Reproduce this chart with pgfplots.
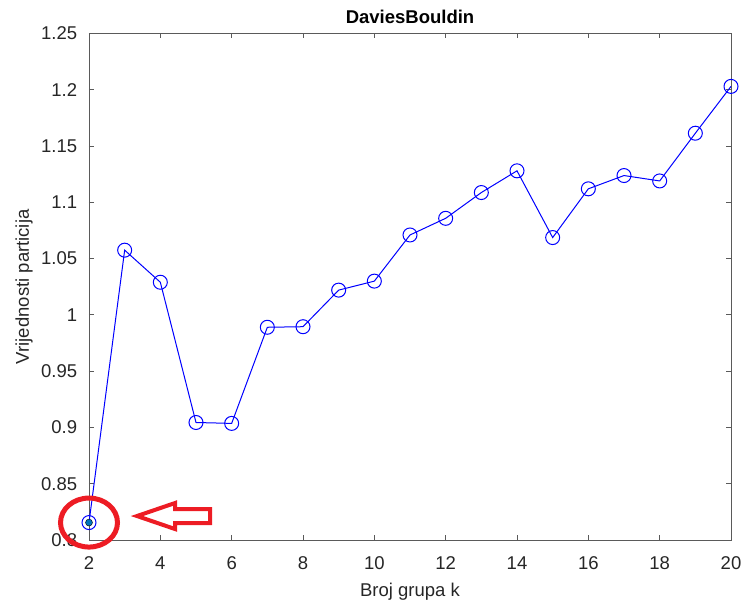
\documentclass[border=0pt]{standalone}
\usepackage{pgfplots}
\pgfplotsset{compat=1.18}
\usepackage{fontspec}
\setmainfont{Liberation Sans}
\definecolor{axgray}{RGB}{90,90,90}
\definecolor{txtgray}{RGB}{38,38,38}
\definecolor{mblue}{RGB}{0,0,255}
\definecolor{selblue}{RGB}{0,114,189}
\definecolor{paintred}{RGB}{237,28,36}
\begin{document}
\begin{tikzpicture}
% keep the page the same size as the screenshot (1px = 1pt)
\path[use as bounding box] (-89pt,-62pt) rectangle (654pt,540pt);
\begin{axis}[
  scale only axis,
  width=642pt, height=506.5pt,
  xmin=2, xmax=20, ymin=0.8, ymax=1.25,
  xtick={2,4,...,20},
  ytick={0.8,0.85,...,1.26},
  axis line style={axgray, line width=0.9pt},
  every tick/.style={axgray, line width=0.9pt},
  major tick length=5pt,
  tick align=inside,
  /pgf/number format/assume math mode=true,
  yticklabel style={/pgf/number format/fixed, /pgf/number format/precision=2,
    anchor=east, inner xsep=0pt, xshift=-11.7pt},
  xticklabel style={anchor=base, yshift=-29pt},
  tick label style={font=\fontsize{18.5}{22}\selectfont, text=txtgray},
  every axis y label/.style={at={(axis description cs:-0.101,0.5)}, rotate=90,
    anchor=center, font=\fontsize{18.5}{22}\selectfont, text=txtgray},
  every axis x label/.style={at={(axis description cs:0.5,-0.112)}, anchor=base,
    font=\fontsize{18.5}{22}\selectfont, text=txtgray},
  every axis title/.style={at={(axis description cs:0.5,1)}, anchor=base, yshift=9.5pt,
    font=\bfseries\fontsize{18.5}{22}\selectfont, text=black},
  title={DaviesBouldin},
  xlabel={Broj grupa k},
  ylabel={Vrijednosti particija},
  clip=false,
]
\addplot[mblue, line width=1pt, mark=o, mark size=7pt,
  mark options={line width=1pt, solid}] coordinates {
  (2,0.8155) (3,1.0575) (4,1.029) (5,0.9044) (6,0.9036)
  (7,0.989) (8,0.9895) (9,1.022) (10,1.030) (11,1.071)
  (12,1.0858) (13,1.1087) (14,1.128) (15,1.0687) (16,1.112)
  (17,1.1238) (18,1.119) (19,1.1614) (20,1.203)
};
% highlighted point
\addplot[only marks, mark=*, mark size=3.5pt, draw=none, fill=selblue]
  coordinates {(2,0.8155)};
% red annotation
\draw[paintred, line width=5pt] (axis cs:2,0.8155) ellipse [x radius=28.5pt, y radius=24.5pt];
\begin{scope}[shift={(axis cs:3.346,0.8213)}]
\draw[paintred, line width=4pt, line join=miter]
  (0pt,0pt) -- (38pt,13pt) -- (38pt,7pt) -- (73pt,7pt) -- (73pt,-7pt)
  -- (38pt,-7pt) -- (38pt,-13pt) -- cycle;
\end{scope}
\end{axis}
\end{tikzpicture}
\end{document}
